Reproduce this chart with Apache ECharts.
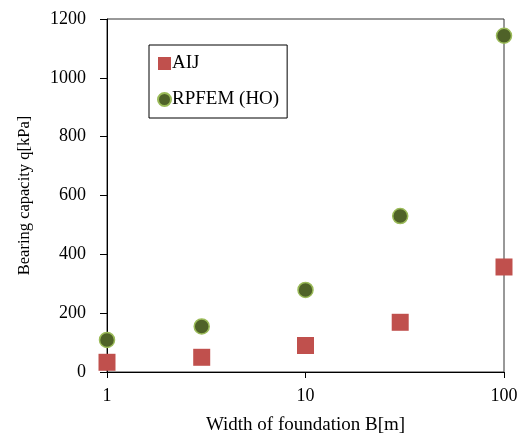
<!DOCTYPE html>
<html>
<head>
<meta charset="utf-8">
<script src="https://cdn.jsdelivr.net/npm/echarts@6/dist/echarts.min.js"></script>
<style>
  html, body { margin: 0; padding: 0; background: #fff; }
  #chart { width: 522px; height: 435px; }
</style>
</head>
<body>
<div id="chart"></div>
<script>
// foundation width B [m]
const widths = [1, 3, 10, 30, 100];
// bearing capacity q [kPa]
const aij = [33, 50, 90, 169, 357];
const rpfem = [109, 155, 279, 530, 1143];

const font = "Liberation Serif";

const chart = echarts.init(document.getElementById("chart"));
const option = {
  textStyle: { fontFamily: font, color: "#000" },
  grid: {
    left: 107,
    right: 18,
    top: 19,
    bottom: 63,
    outerBoundsMode: "none",
    show: true,
    borderColor: "#333",
    borderWidth: 1,
  },
  legend: {
    orient: "vertical",
    left: 149,
    top: 45,
    padding: [9, 8, 9, 8],
    itemGap: 17,
    itemWidth: 13,
    itemHeight: 13,
    borderColor: "#000",
    borderWidth: 1,
    textStyle: { fontFamily: font, fontSize: 19, color: "#000", padding: [0, 0, 0, -4] },
    data: [
      { name: "AIJ", icon: "rect" },
      { name: "RPFEM (HO)", icon: "circle" },
    ],
  },
  xAxis: {
    type: "log",
    logBase: 10,
    min: 1,
    max: 100,
    name: "Width of foundation B[m]",
    nameLocation: "middle",
    nameGap: 44,
    nameTextStyle: { fontFamily: font, fontSize: 19, color: "#000" },
    axisLine: { lineStyle: { color: "#000" } },
    axisTick: { show: true, inside: false, length: 6, lineStyle: { color: "#000" } },
    minorTick: { show: false },
    splitLine: { show: false },
    axisLabel: { fontFamily: font, fontSize: 18, color: "#000", margin: 15 },
  },
  yAxis: {
    type: "value",
    min: 0,
    max: 1200,
    interval: 200,
    name: "Bearing capacity q[kPa]",
    nameLocation: "middle",
    nameGap: 74,
    nameRotate: 90,
    nameTextStyle: { fontFamily: font, fontSize: 16.5, color: "#000" },
    axisLine: { show: true, lineStyle: { color: "#000" } },
    axisTick: { show: true, inside: false, length: 7, lineStyle: { color: "#000" } },
    splitLine: { show: false },
    axisLabel: {
      fontFamily: font,
      fontSize: 18,
      color: "#000",
      margin: 21,
      formatter: (v) => String(v),
    },
  },
  series: [
    {
      name: "AIJ",
      type: "scatter",
      symbol: "rect",
      symbolSize: 17,
      clip: false,
      itemStyle: { color: "#C0504D", opacity: 1 },
      data: widths.map((w, i) => [w, aij[i]]),
    },
    {
      name: "RPFEM (HO)",
      type: "scatter",
      symbol: "circle",
      symbolSize: 15,
      clip: false,
      itemStyle: { color: "#4F6228", borderColor: "#9BBB59", borderWidth: 1.5, opacity: 1 },
      data: widths.map((w, i) => [w, rpfem[i]]),
    },
  ],
};
chart.setOption(option);
</script>
</body>
</html>
